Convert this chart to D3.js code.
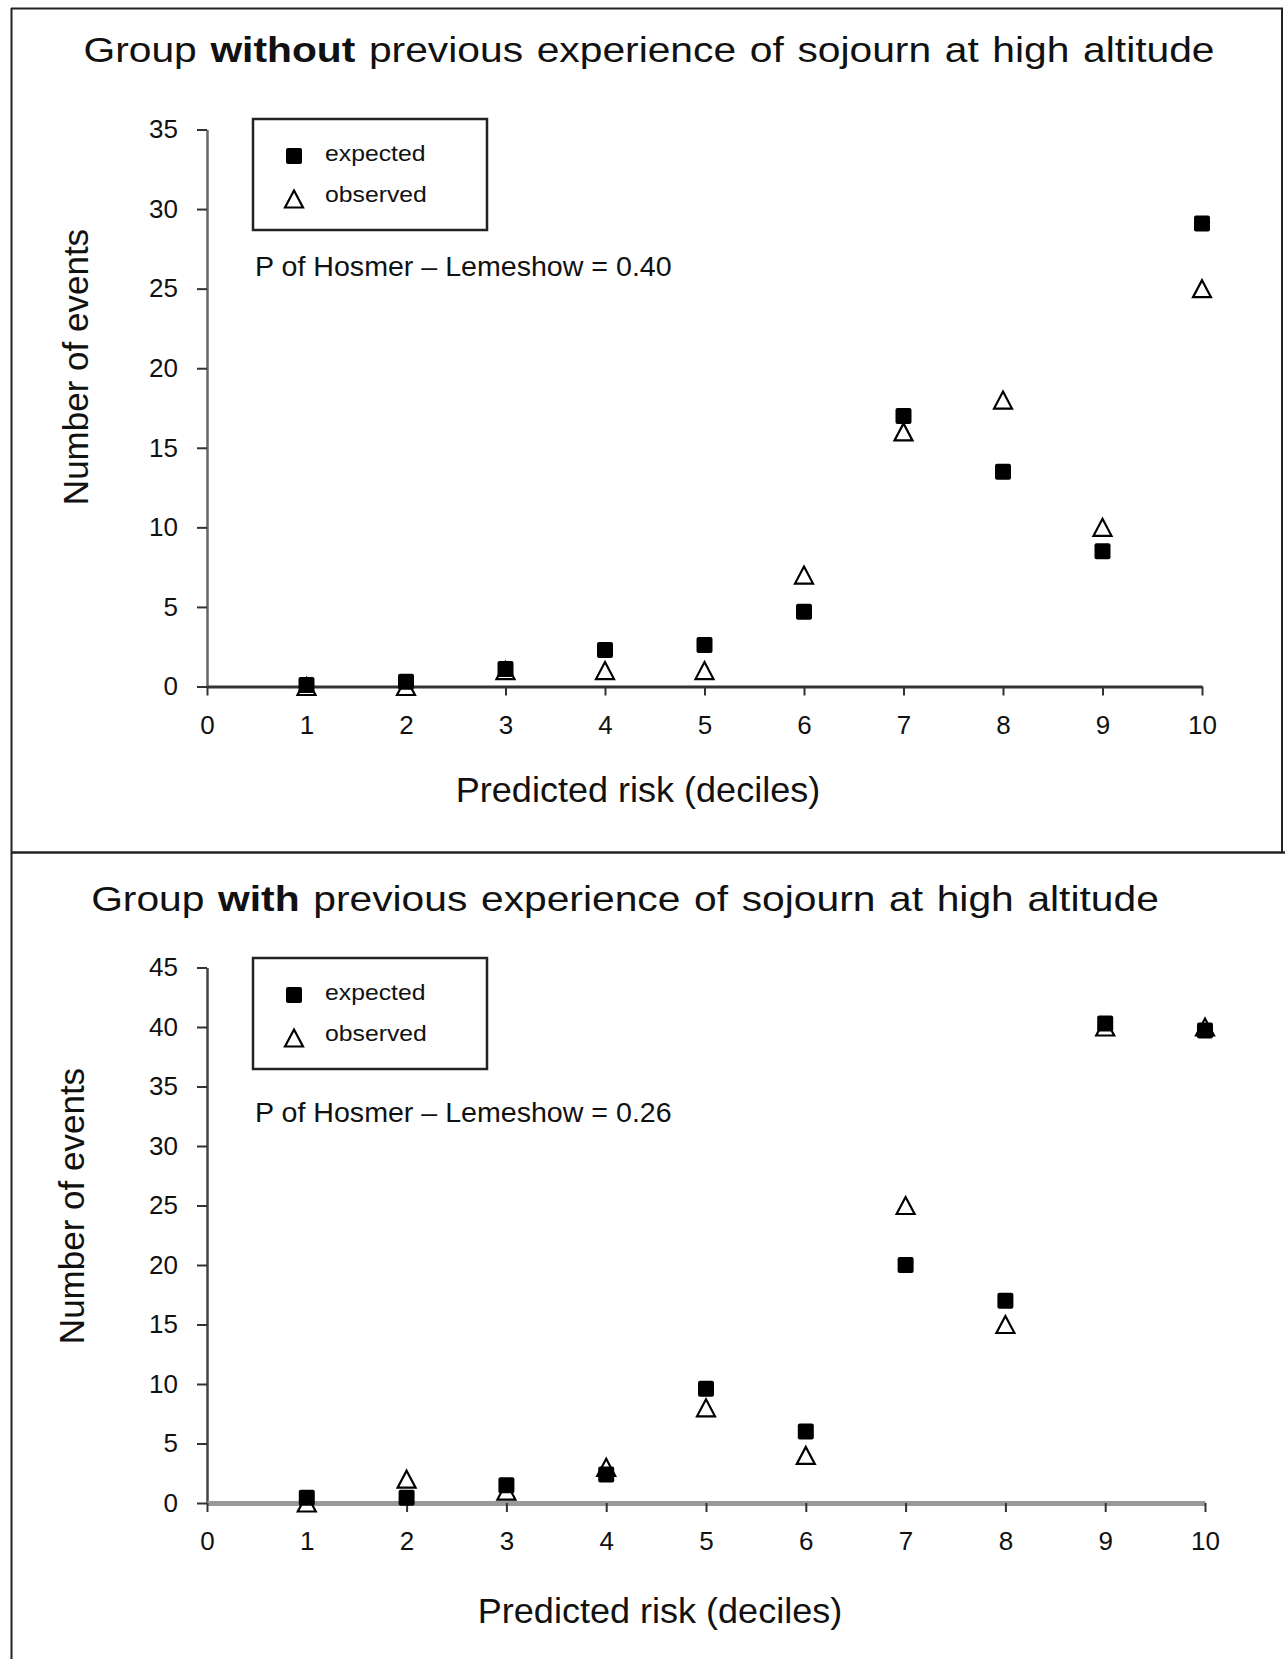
<!DOCTYPE html>
<html>
<head>
<meta charset="utf-8">
<script src="https://cdn.jsdelivr.net/npm/d3@7"></script>
<style>
  html, body { margin: 0; padding: 0; background: #fff; }
  svg { display: block; }
  text { font-family: "Liberation Sans", Arial, sans-serif; fill: #111; }
</style>
</head>
<body>
<svg id="chart" width="1285" height="1659"></svg>
<script>
// ---- data ----
const deciles = [1, 2, 3, 4, 5, 6, 7, 8, 9, 10];
const xTickValues = [0, 1, 2, 3, 4, 5, 6, 7, 8, 9, 10];

const topTitleParts = [["Group ", false], ["without", true], [" previous experience of sojourn at high altitude", false]];
const topExpected = [0.1, 0.3, 1.1, 2.3, 2.6, 4.7, 17.0, 13.5, 8.5, 29.1];
const topObserved = [0, 0, 1, 1, 1, 7, 16, 18, 10, 25];
const topYTicks = [0, 5, 10, 15, 20, 25, 30, 35];
const topPText = "P of Hosmer \u2013 Lemeshow = 0.40";

const bottomTitleParts = [["Group ", false], ["with", true], [" previous experience of sojourn at high altitude", false]];
const bottomExpected = [0.45, 0.45, 1.5, 2.4, 9.6, 6.0, 20.0, 17.0, 40.3, 39.7];
const bottomObserved = [0, 2, 1, 3, 8, 4, 25, 15, 40, 40];
const bottomYTicks = [0, 5, 10, 15, 20, 25, 30, 35, 40, 45];
const bottomPText = "P of Hosmer \u2013 Lemeshow = 0.26";

const legendLabels = ["expected", "observed"];
const xAxisTitle = "Predicted risk (deciles)";
const yAxisTitle = "Number of events";

// ---- layout ----
const svg = d3.select("#chart");

// panel borders
const borders = svg.append("g").attr("fill", "none").attr("stroke", "#222").attr("stroke-width", 2);
borders.append("line").attr("x1", 11).attr("x2", 1283).attr("y1", 8.5).attr("y2", 8.5);
borders.append("line").attr("x1", 1282).attr("x2", 1282).attr("y1", 8).attr("y2", 853);
borders.append("line").attr("x1", 11.5).attr("x2", 11.5).attr("y1", 8).attr("y2", 1659);
borders.append("line").attr("x1", 11).attr("x2", 1285).attr("y1", 852.5).attr("y2", 852.5).attr("stroke-width", 2.5);

const panels = [
  {
    titleParts: topTitleParts, titleX: 649, titleY: 62,
    expected: topExpected, observed: topObserved, yTicks: topYTicks, yMax: 35,
    x0: 207, x1: 1202, yBottom: 686.5, yTop: 129.5,
    legendY: 119, pText: topPText, pY: 276,
    xTitleX: 638, xTitleY: 802, yTitleX: 88, yTitleY: 367,
    xAxisColor: "#333", xAxisWidth: 3, yAxisColor: "#666", yAxisWidth: 2.5
  },
  {
    titleParts: bottomTitleParts, titleX: 625, titleY: 911,
    expected: bottomExpected, observed: bottomObserved, yTicks: bottomYTicks, yMax: 45,
    x0: 207, x1: 1205, yBottom: 1503, yTop: 967.5,
    legendY: 958, pText: bottomPText, pY: 1122,
    xTitleX: 660, xTitleY: 1623, yTitleX: 84, yTitleY: 1206,
    xAxisColor: "#999", xAxisWidth: 5, yAxisColor: "#444", yAxisWidth: 2.5
  }
];

const sq = 16;       // square marker size
const triW = 18, triH = 17;

function trianglePath(cx, cy) {
  return `M${cx},${cy - triH / 2}L${cx + triW / 2},${cy + triH / 2}L${cx - triW / 2},${cy + triH / 2}Z`;
}

panels.forEach(p => {
  const g = svg.append("g");

  // title (source image is slightly stretched horizontally)
  const t = g.append("text")
    .attr("transform", `translate(${p.titleX},${p.titleY}) scale(1.165,1)`)
    .attr("text-anchor", "middle")
    .attr("font-size", 35)
    .style("word-spacing", "2px");
  p.titleParts.forEach(([s, b]) => {
    t.append("tspan").text(s).attr("font-weight", b ? "bold" : "normal");
  });

  const x = d3.scaleLinear().domain([0, 10]).range([p.x0, p.x1]);
  const y = d3.scaleLinear().domain([0, p.yMax]).range([p.yBottom, p.yTop]);

  // y axis
  const yAxis = g.append("g")
    .attr("transform", `translate(${p.x0},0)`)
    .call(d3.axisLeft(y).tickValues(p.yTicks).tickSize(10).tickSizeOuter(0).tickPadding(19));
  yAxis.select(".domain").attr("stroke", p.yAxisColor).attr("stroke-width", p.yAxisWidth);
  yAxis.selectAll(".tick line").attr("stroke", "#333").attr("stroke-width", 2);
  yAxis.selectAll(".tick text").attr("font-size", 26).attr("fill", "#111")
    .attr("font-family", "Liberation Sans, Arial, sans-serif");

  // x axis
  const xAxis = g.append("g")
    .attr("transform", `translate(0,${p.yBottom})`)
    .call(d3.axisBottom(x).tickValues(xTickValues).tickSize(9).tickSizeOuter(0).tickPadding(20));
  xAxis.select(".domain").attr("stroke", p.xAxisColor).attr("stroke-width", p.xAxisWidth);
  xAxis.selectAll(".tick line").attr("stroke", "#333").attr("stroke-width", 2);
  xAxis.selectAll(".tick text").attr("font-size", 26).attr("fill", "#111")
    .attr("font-family", "Liberation Sans, Arial, sans-serif");

  // axis titles
  g.append("text")
    .attr("transform", `translate(${p.xTitleX},${p.xTitleY}) scale(1.03,1)`)
    .attr("text-anchor", "middle").attr("font-size", 35)
    .text(xAxisTitle);
  g.append("text")
    .attr("transform", `translate(${p.yTitleX},${p.yTitleY}) rotate(-90)`)
    .attr("text-anchor", "middle").attr("font-size", 35)
    .text(yAxisTitle);

  // legend
  const lg = g.append("g");
  lg.append("rect").attr("x", 253).attr("y", p.legendY).attr("width", 234).attr("height", 111)
    .attr("fill", "#fff").attr("stroke", "#222").attr("stroke-width", 2.5);
  lg.append("rect").attr("x", 294 - 8).attr("y", p.legendY + 42 - 5 - 8).attr("width", 16).attr("height", 16)
    .attr("rx", 2).attr("fill", "#000");
  lg.append("path").attr("d", trianglePath(294, p.legendY + 83 - 3))
    .attr("fill", "#fff").attr("stroke", "#000").attr("stroke-width", 2.2);
  legendLabels.forEach((lab, i) => {
    lg.append("text")
      .attr("transform", `translate(325,${p.legendY + (i === 0 ? 42 : 83)}) scale(1.1,1)`)
      .attr("font-size", 22.5).attr("fill", "#222").text(lab);
  });

  // P text
  g.append("text")
    .attr("transform", `translate(255,${p.pY}) scale(1.04,1)`)
    .attr("font-size", 27.5).attr("fill", "#222").text(p.pText);

  // observed triangles (drawn first)
  g.append("g").selectAll("path").data(deciles)
    .join("path")
    .attr("d", (d, i) => trianglePath(x(d), y(p.observed[i])))
    .attr("fill", "#fff").attr("stroke", "#000").attr("stroke-width", 2.2);

  // expected squares
  g.append("g").selectAll("rect").data(deciles)
    .join("rect")
    .attr("x", d => x(d) - sq / 2)
    .attr("y", (d, i) => y(p.expected[i]) - sq / 2)
    .attr("width", sq).attr("height", sq).attr("rx", 2)
    .attr("fill", "#000");
});
</script>
</body>
</html>
